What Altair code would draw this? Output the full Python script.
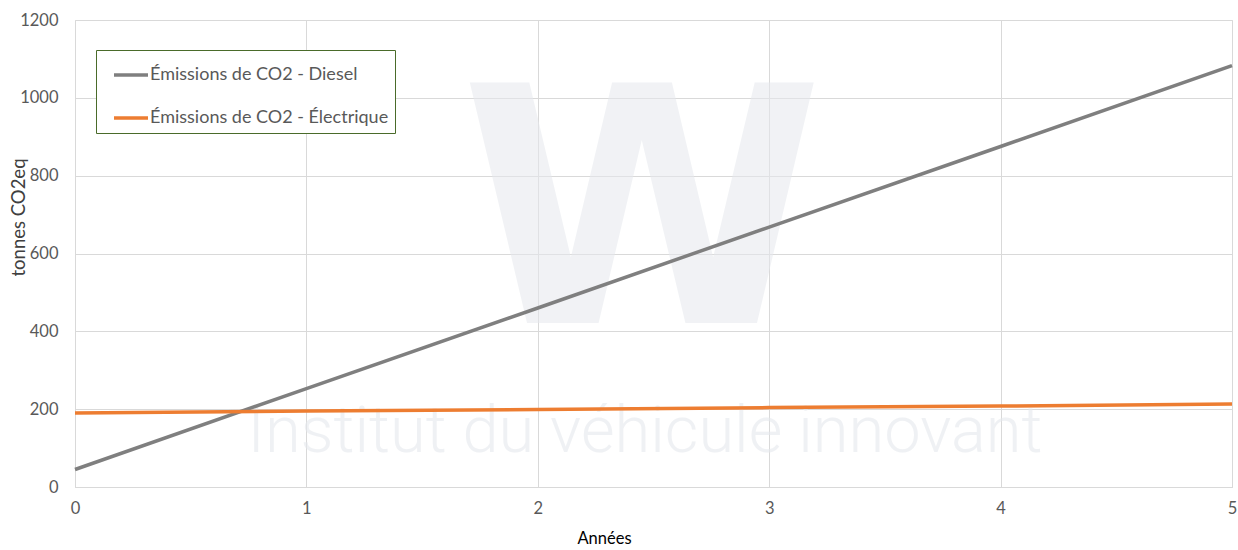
import altair as alt
import pandas as pd

years = [0, 1, 2, 3, 4, 5]
diesel = [45, 253, 460, 668, 875, 1083]
electrique = [190, 195, 199, 204, 208, 213]
series_names = ["Émissions de CO2 - Diesel", "Émissions de CO2 - Électrique"]
series_colors = ["#7f7f7f", "#ed7d31"]
watermark_logo = ["W"]
watermark_text = ["Institut du véhicule innovant"]

rows = []
for y, d, e in zip(years, diesel, electrique):
    rows.append({"Années": y, "value": d, "serie": series_names[0]})
    rows.append({"Années": y, "value": e, "serie": series_names[1]})
df = pd.DataFrame(rows)

FONT = "Lato"
W, H = 1157, 467

logo = alt.Chart(pd.DataFrame({"t": watermark_logo})).mark_text(
    font="DejaVu Sans", fontWeight="bold", fontSize=330, color="#e6e9ee",
    opacity=0.55, align="center", baseline="alphabetic"
).encode(text="t:N", x=alt.value(567), y=alt.value(303))

wtext = alt.Chart(pd.DataFrame({"t": watermark_text})).mark_text(
    font="Roboto", fontWeight=300, fontSize=65, color="#e6e9ee",
    opacity=0.6, align="center", baseline="alphabetic"
).encode(text="t:N", x=alt.value(570), y=alt.value(432))

lines = alt.Chart(df).mark_line(strokeWidth=3.5).encode(
    x=alt.X("Années:Q", scale=alt.Scale(domain=[0, 5], nice=False),
            axis=alt.Axis(values=[0, 1, 2, 3, 4, 5], format="d", title="Années",
                          titleX=529, titleY=56, titleBaseline="alphabetic", titleAlign="center",
                          titleFontSize=16.5, titleFontWeight="normal",
                          titleColor="#000000", labelFontSize=16.5, labelColor="#595959",
                          labelPadding=13, labelFlush=False, ticks=False, domainColor="#d9d9d9",
                          gridColor="#d9d9d9", labelFont=FONT, titleFont=FONT)),
    y=alt.Y("value:Q", scale=alt.Scale(domain=[0, 1200], nice=False),
            axis=alt.Axis(values=[0, 200, 400, 600, 800, 1000, 1200], format="d",
                          title="tonnes CO2eq",
                          titleX=-57, titleY=197, titleBaseline="middle", titleAlign="center",
                          titleFontSize=18.5, titleFontWeight="normal",
                          titleColor="#404040", labelFontSize=16.5, labelColor="#595959",
                          labelPadding=17, ticks=False, domain=False,
                          gridColor="#d9d9d9", labelFont=FONT, titleFont=FONT)),
    color=alt.Color("serie:N", scale=alt.Scale(domain=series_names, range=series_colors),
                    sort=series_names,
                    legend=alt.Legend(title=None, orient="none", legendX=21, legendY=30,
                                      strokeColor="#4a6b2a", fillColor="#ffffff", padding=6,
                                      symbolType="stroke", symbolSize=1156, symbolStrokeWidth=3.5,
                                      symbolOffset=10, labelOffset=0, labelFontSize=18,
                                      labelColor="#595959", labelFont=FONT, rowPadding=15,
                                      labelLimit=400)),
)

chart = alt.layer(logo, wtext, lines).properties(
    width=W, height=H,
    autosize=alt.AutoSizeParams(type="none"),
    padding={"left": 75, "top": 20, "right": 6, "bottom": 63},
).configure_view(stroke=None).configure(background="#ffffff")

chart.save("out.html", embed_options={"renderer": "svg", "actions": False})
